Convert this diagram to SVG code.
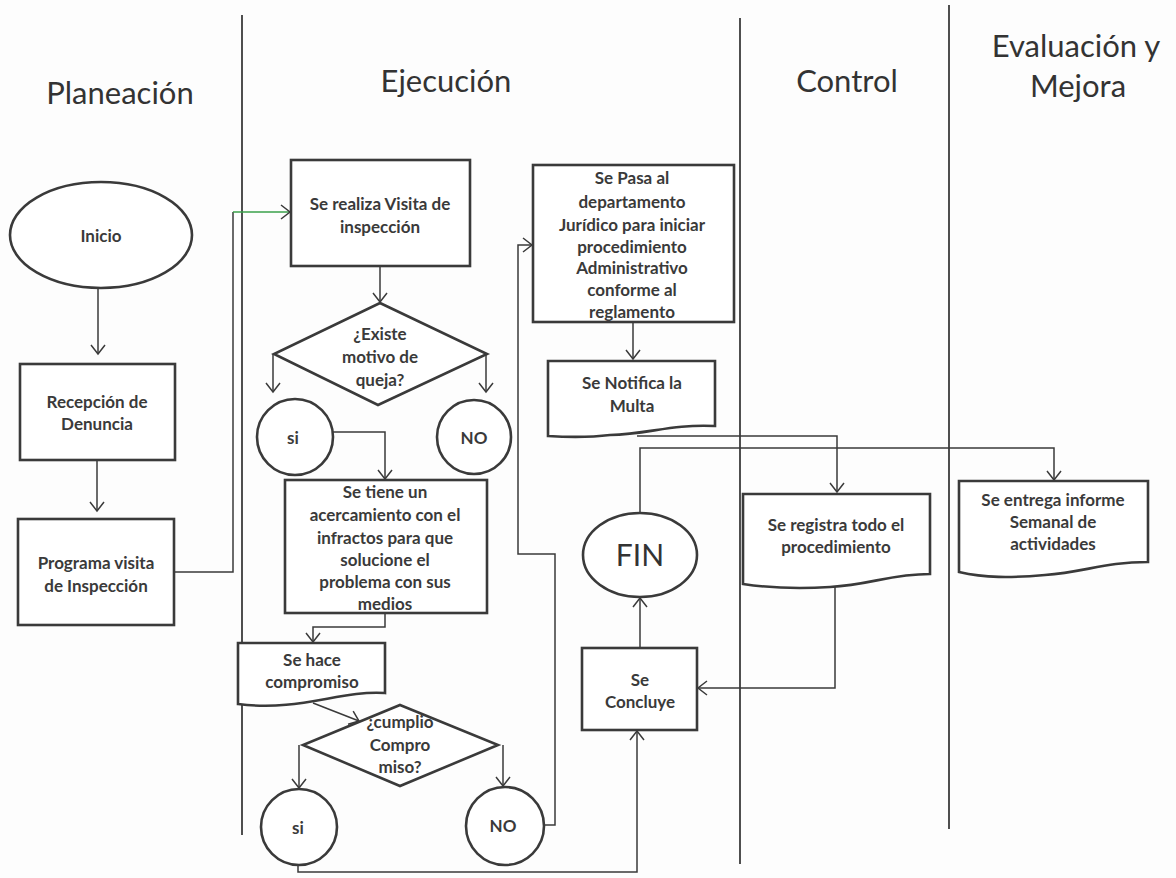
<svg xmlns="http://www.w3.org/2000/svg" width="1176" height="878" viewBox="0 0 1176 878">
<style>
.bg{fill:#fdfdfd}
.lane{stroke:#222;stroke-width:1.6;fill:none}
.title{font-family:Lato,"Liberation Sans",sans-serif;font-size:31px;fill:#333;text-anchor:middle}
.shape{fill:#fff;stroke:#3a3a3a;stroke-width:2.6}
.t{font-family:Lato,"Liberation Sans",sans-serif;font-size:17px;font-weight:bold;fill:#3a3a3a;text-anchor:middle}
.big{font-family:Lato,"Liberation Sans",sans-serif;font-size:30px;fill:#333;text-anchor:middle}
.c{fill:none;stroke:#3a3a3a;stroke-width:1.5}
.g{stroke:#3aa04a}
</style>
<defs>
<marker id="a" markerWidth="12" markerHeight="16" refX="10" refY="8" orient="auto" markerUnits="userSpaceOnUse">
<path d="M1,1 L10,8 L1,15" fill="none" stroke="#3a3a3a" stroke-width="1.5"/>
</marker>
</defs>
<rect class="bg" x="0" y="0" width="1176" height="878"/>
<g id="lanes">
<line class="lane" x1="242" y1="15" x2="242" y2="835"/>
<line class="lane" x1="740" y1="18" x2="740" y2="864"/>
<line class="lane" x1="949" y1="5" x2="949" y2="829"/>
<text class="title" x="120" y="104">Planeación</text>
<text class="title" x="446" y="92">Ejecución</text>
<text class="title" x="847" y="92">Control</text>
<text class="title" x="1076" y="57">Evaluación y</text>
<text class="title" x="1078" y="97">Mejora</text>
</g>
<g id="connectors">
<line class="c" x1="98" y1="288" x2="98" y2="354" marker-end="url(#a)"/>
<line class="c" x1="97" y1="460" x2="97" y2="511" marker-end="url(#a)"/>
<polyline class="c" points="174,572 233,572 233,212"/>
<line class="c g" x1="233" y1="212" x2="290" y2="212" marker-end="url(#a)"/>
<line class="c" x1="380" y1="267" x2="380" y2="302" marker-end="url(#a)"/>
<line class="c" x1="273" y1="354" x2="273" y2="392" marker-end="url(#a)"/>
<line class="c" x1="486" y1="354" x2="486" y2="392" marker-end="url(#a)"/>
<polyline class="c" points="333,432 385,432 385,479" marker-end="url(#a)"/>
<polyline class="c" points="385,614 385,627 313,627 313,642" marker-end="url(#a)"/>
<line class="c" x1="313" y1="703" x2="359" y2="721" marker-end="url(#a)"/>
<line class="c" x1="299" y1="745" x2="299" y2="788" marker-end="url(#a)"/>
<line class="c" x1="503" y1="745" x2="503" y2="786" marker-end="url(#a)"/>
<polyline class="c" points="544,825 555,825 555,554 518,554 518,245 532,245" marker-end="url(#a)"/>
<polyline class="c" points="298,866 298,872 637,872 637,731" marker-end="url(#a)"/>
<line class="c" x1="640" y1="647" x2="640" y2="598" marker-end="url(#a)"/>
<polyline class="c" points="640,513 640,448 1054,448 1054,480" marker-end="url(#a)"/>
<line class="c" x1="633" y1="322" x2="633" y2="359" marker-end="url(#a)"/>
<polyline class="c" points="637,436 837,436 837,492" marker-end="url(#a)"/>
<polyline class="c" points="835,585 835,688 698,688" marker-end="url(#a)"/>
</g>
<g id="inicio">
<ellipse class="shape" cx="101" cy="235" rx="91" ry="53"/>
<text class="t" x="101" y="242">Inicio</text>
</g>
<g id="recepcion">
<rect class="shape" x="20" y="364" width="155" height="96"/>
<text class="t" x="97" y="408">Recepción de</text>
<text class="t" x="97" y="430">Denuncia</text>
</g>
<g id="programa">
<rect class="shape" x="18" y="519" width="156" height="106"/>
<text class="t" x="96" y="569">Programa visita</text>
<text class="t" x="96" y="592">de Inspección</text>
</g>
<g id="visita">
<rect class="shape" x="291" y="160" width="179" height="106"/>
<text class="t" x="380" y="210">Se realiza Visita de</text>
<text class="t" x="380" y="233">inspección</text>
</g>
<g id="existe">
<polygon class="shape" points="380,303 487,354 378,405 274,354"/>
<text class="t" x="380" y="340">¿Existe</text>
<text class="t" x="380" y="363">motivo de</text>
<text class="t" x="380" y="386">queja?</text>
</g>
<g id="si1">
<circle class="shape" cx="295" cy="437" r="38"/>
<text class="t" x="293" y="444">si</text>
</g>
<g id="no1">
<circle class="shape" cx="474" cy="437" r="37"/>
<text class="t" x="474" y="444">NO</text>
</g>
<g id="acercamiento">
<rect class="shape" x="285" y="480" width="202" height="133"/>
<text class="t" x="385" y="498">Se tiene un</text>
<text class="t" x="385" y="521">acercamiento con el</text>
<text class="t" x="385" y="544">infractos  para que</text>
<text class="t" x="385" y="566">solucione el</text>
<text class="t" x="385" y="588">problema con sus</text>
<text class="t" x="385" y="610">medios</text>
</g>
<g id="compromiso">
<path class="shape" d="M238,643 H385 V693 C340,690 300,712 238,704 Z"/>
<text class="t" x="312" y="666">Se hace</text>
<text class="t" x="312" y="688">compromiso</text>
</g>
<g id="cumplio">
<polygon class="shape" points="400,705 498,745 400,786 303,745"/>
<text class="t" x="400" y="728">¿cumplio</text>
<text class="t" x="400" y="751">Compro</text>
<text class="t" x="400" y="773">miso?</text>
</g>
<g id="si2">
<circle class="shape" cx="299" cy="827" r="38"/>
<text class="t" x="298" y="834">si</text>
</g>
<g id="no2">
<circle class="shape" cx="505" cy="826" r="39"/>
<text class="t" x="503" y="832">NO</text>
</g>
<g id="juridico">
<rect class="shape" x="533" y="165" width="201" height="157"/>
<text class="t" x="632" y="184">Se Pasa al</text>
<text class="t" x="632" y="208">departamento</text>
<text class="t" x="632" y="231">Jurídico para iniciar</text>
<text class="t" x="632" y="253">procedimiento</text>
<text class="t" x="632" y="274">Administrativo</text>
<text class="t" x="632" y="296">conforme al</text>
<text class="t" x="632" y="318">reglamento</text>
</g>
<g id="notifica">
<path class="shape" d="M548,361 H715 V426 C670,424 650,434 610,435 C585,438 565,437 548,436 Z"/>
<text class="t" x="632" y="389">Se Notifica la</text>
<text class="t" x="632" y="412">Multa</text>
</g>
<g id="fin">
<ellipse class="shape" cx="640" cy="555" rx="57" ry="42"/>
<text class="big" x="640" y="566">FIN</text>
</g>
<g id="concluye">
<rect class="shape" x="582" y="648" width="115" height="82"/>
<text class="t" x="640" y="686">Se</text>
<text class="t" x="640" y="708">Concluye</text>
</g>
<g id="registra">
<path class="shape" d="M743,494 H930 V574 C890,574 870,585 830,587 C800,589 770,588 743,584 Z"/>
<text class="t" x="836" y="531">Se registra todo el</text>
<text class="t" x="836" y="553">procedimiento</text>
</g>
<g id="entrega">
<path class="shape" d="M959,481 H1148 V562 C1105,562 1085,572 1045,575 C1010,578 985,578 959,572 Z"/>
<text class="t" x="1053" y="506">Se entrega informe</text>
<text class="t" x="1053" y="528">Semanal de</text>
<text class="t" x="1053" y="550">actividades</text>
</g>
</svg>
